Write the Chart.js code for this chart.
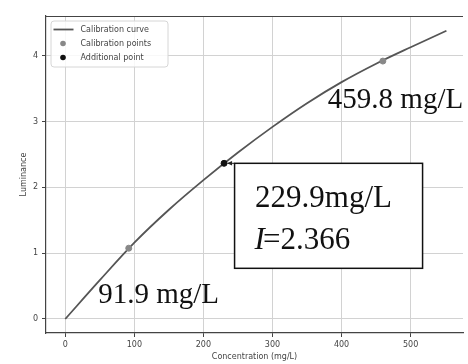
<!DOCTYPE html>
<html>
<head>
<meta charset="utf-8">
<title>Calibration curve</title>
<script src="https://cdn.jsdelivr.net/npm/chart.js@4/dist/chart.umd.min.js"></script>
<style>
  html, body { margin: 0; padding: 0; background: #fff; }
  #wrap { width: 468px; height: 364px; }
</style>
</head>
<body>
<div id="wrap"><canvas id="chart"></canvas></div>
<script>
// fitted curve, sampled along concentration (mg/L)
const curveConc = [0, 50, 100, 150, 200, 250, 300, 350, 400, 450, 500, 551.8];
const curveLum = [0, 0.59, 1.16, 1.66, 2.11, 2.53, 2.92, 3.28, 3.60, 3.88, 4.13, 4.38];

// standards used for the calibration
const calibConc = [91.9, 459.8];
const calibLum = [1.076, 3.92];

// extra sample
const addConc = [229.9];
const addLum = [2.366];

const xTicks = [0, 100, 200, 300, 400, 500];
const yTicks = [0, 1, 2, 3, 4];

const toPoints = (xs, ys) => xs.map((x, i) => ({ x: x, y: ys[i] }));

const tickFont = { family: "DejaVu Sans", size: 8 };
const serif = "Liberation Serif";

// legend box in the upper left corner, drawn like a matplotlib legend
const legendBox = {
  id: "legendBox",
  afterDraw(chart) {
    const { ctx, chartArea } = chart;
    const x0 = chartArea.left + 5, y0 = chartArea.top + 5;
    const w = 117, h = 46;
    ctx.save();
    ctx.beginPath();
    ctx.roundRect(x0, y0, w, h, 3);
    ctx.fillStyle = "rgba(255,255,255,0.85)";
    ctx.fill();
    ctx.strokeStyle = "#d6d6d6";
    ctx.lineWidth = 1;
    ctx.stroke();

    ctx.font = "8px 'DejaVu Sans'";
    ctx.textBaseline = "middle";
    ctx.fillStyle = "#444";
    chart.data.datasets.forEach((ds, i) => {
      const cy = y0 + 8.5 + i * 14;
      if (ds.showLine) {
        ctx.beginPath();
        ctx.moveTo(x0 + 2.5, cy);
        ctx.lineTo(x0 + 22.5, cy);
        ctx.strokeStyle = ds.borderColor;
        ctx.lineWidth = ds.borderWidth;
        ctx.stroke();
      } else {
        ctx.beginPath();
        ctx.arc(x0 + 12, cy, 2.8, 0, Math.PI * 2);
        ctx.fillStyle = ds.pointBackgroundColor;
        ctx.fill();
      }
      ctx.fillStyle = "#444";
      ctx.fillText(ds.label, x0 + 29.5, cy);
    });
    ctx.restore();
  }
};

// top spine and the concentration labels
const notes = {
  id: "notes",
  afterDraw(chart) {
    const { ctx, chartArea, scales } = chart;
    ctx.save();

    ctx.beginPath();
    ctx.moveTo(chartArea.left, chartArea.top + 0.5);
    ctx.lineTo(chartArea.right, chartArea.top + 0.5);
    ctx.strokeStyle = "#444";
    ctx.lineWidth = 1.2;
    ctx.stroke();

    ctx.fillStyle = "#111";
    ctx.textBaseline = "alphabetic";
    ctx.textAlign = "left";

    const lowX = scales.x.getPixelForValue(calibConc[0]);
    const lowY = scales.y.getPixelForValue(calibLum[0]);
    ctx.font = "29px '" + serif + "'";
    ctx.fillText(calibConc[0].toFixed(1) + " mg/L", lowX - 30.5, lowY + 54.5);

    const highX = scales.x.getPixelForValue(calibConc[1]);
    const highY = scales.y.getPixelForValue(calibLum[1]);
    ctx.fillText(calibConc[1].toFixed(1) + " mg/L", highX - 55, highY + 47);

    // boxed label for the additional point
    const px = scales.x.getPixelForValue(addConc[0]);
    const py = scales.y.getPixelForValue(addLum[0]);
    const bx = px + 10.5, by = py, bw = 188, bh = 105;

    ctx.beginPath();
    ctx.moveTo(bx, by);
    ctx.lineTo(px + 3.5, py);
    ctx.strokeStyle = "#222";
    ctx.lineWidth = 1;
    ctx.stroke();
    ctx.beginPath();
    ctx.moveTo(px + 3, py);
    ctx.lineTo(px + 8, py - 2.2);
    ctx.lineTo(px + 8, py + 2.2);
    ctx.closePath();
    ctx.fillStyle = "#222";
    ctx.fill();

    ctx.fillStyle = "#fff";
    ctx.fillRect(bx, by, bw, bh);
    ctx.strokeStyle = "#111";
    ctx.lineWidth = 1.5;
    ctx.strokeRect(bx, by, bw, bh);

    ctx.fillStyle = "#111";
    ctx.font = "31px '" + serif + "'";
    ctx.fillText(addConc[0].toFixed(1) + "mg/L", bx + 20.5, by + 43.5);
    ctx.font = "italic 31px '" + serif + "'";
    ctx.fillText("I", bx + 20, by + 86);
    const iw = ctx.measureText("I").width;
    ctx.font = "31px '" + serif + "'";
    ctx.fillText("=" + addLum[0].toFixed(3), bx + 20 + iw - 2, by + 86);

    ctx.restore();
  }
};

const ctx = document.getElementById("chart").getContext("2d");
const chart = new Chart(ctx, {
  type: "scatter",
  data: {
    datasets: [
      {
        label: "Calibration curve",
        data: toPoints(curveConc, curveLum),
        showLine: true,
        borderColor: "#555",
        borderWidth: 1.8,
        pointRadius: 0,
        pointBackgroundColor: "#555",
        cubicInterpolationMode: "monotone",
        order: 3,
      },
      {
        label: "Calibration points",
        data: toPoints(calibConc, calibLum),
        pointRadius: 3,
        pointBackgroundColor: "#888",
        pointBorderColor: "#888",
        backgroundColor: "#888",
        order: 2,
      },
      {
        label: "Additional point",
        data: toPoints(addConc, addLum),
        pointRadius: 3,
        pointBackgroundColor: "#111",
        pointBorderColor: "#111",
        backgroundColor: "#111",
        order: 1,
      },
    ],
  },
  options: {
    responsive: true,
    maintainAspectRatio: false,
    animation: false,
    layout: { padding: { top: 16, right: 0, bottom: 0, left: 0 } },
    plugins: {
      legend: { display: false },
      tooltip: { enabled: false },
    },
    scales: {
      x: {
        type: "linear",
        min: -27.9,
        max: 575.8,
        afterFit: (scale) => { scale.height = 31; },
        afterBuildTicks: (scale) => { scale.ticks = xTicks.map((v) => ({ value: v })); },
        ticks: { font: tickFont, color: "#444", padding: 3, maxRotation: 0 },
        grid: { color: "#d2d2d2", lineWidth: 1, tickLength: 4, tickColor: "#444" },
        border: { color: "#444", width: 1.2 },
        title: {
          display: true,
          text: "Concentration (mg/L)",
          font: tickFont,
          color: "#444",
          padding: { top: 0, bottom: 2 },
        },
      },
      y: {
        type: "linear",
        min: -0.213,
        max: 4.605,
        afterFit: (scale) => { scale.width = 46; },
        afterBuildTicks: (scale) => { scale.ticks = yTicks.map((v) => ({ value: v })); },
        ticks: { font: tickFont, color: "#444", padding: 4 },
        grid: { color: "#d2d2d2", lineWidth: 1, tickLength: 4, tickColor: "#444" },
        border: { color: "#444", width: 1.2 },
        title: {
          display: true,
          text: "Luminance",
          font: tickFont,
          color: "#444",
          padding: { top: 19, bottom: 0 },
        },
      },
    },
  },
  plugins: [legendBox, notes],
});
</script>
</body>
</html>
